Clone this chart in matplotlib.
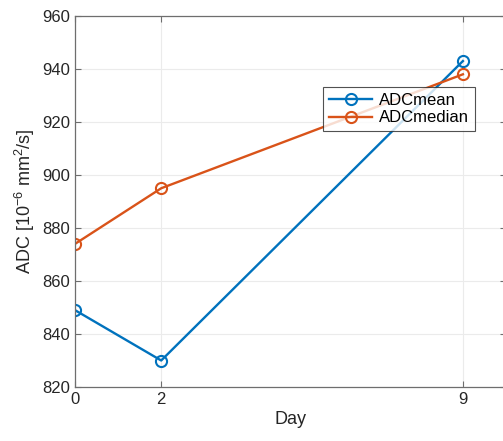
import matplotlib
matplotlib.use("Agg")
import matplotlib.pyplot as plt

plt.rcParams['font.family'] = ['Liberation Sans', 'DejaVu Sans']
plt.rcParams['mathtext.fontset'] = 'custom'
plt.rcParams['mathtext.rm'] = 'Liberation Sans'

days = [0, 2, 9]
adc_mean = [849, 830, 943]
adc_median = [874, 895, 938]
yticks = [820, 840, 860, 880, 900, 920, 940, 960]

blue = '#0072BD'
orange = '#D95319'
text_col = '#262626'

fig = plt.figure(figsize=(5.03, 4.41), dpi=100)
ax = fig.add_axes([75/503, 1 - 387/441, 431/503, 371/441])

ax.plot(days, adc_mean, '-o', color=blue, lw=1.7, ms=8, mfc='none', mew=1.5, label='ADCmean')
ax.plot(days, adc_median, '-o', color=orange, lw=1.7, ms=8, mfc='none', mew=1.5, label='ADCmedian')

ax.set_xlim(0, 10)
ax.set_ylim(820, 960)
ax.set_xticks(days)
ax.set_yticks(yticks)
ax.grid(True, color='#ebebeb', lw=0.8)
ax.set_axisbelow(True)
for s in ax.spines.values():
    s.set_color('#6e6e6e')
    s.set_linewidth(0.9)
ax.tick_params(direction='in', top=True, right=True, length=4, labelsize=12,
               colors='#6e6e6e', labelcolor=text_col, width=0.8)

ax.set_xlabel('Day', fontsize=13, color=text_col, labelpad=3)
ax.set_ylabel(r'ADC [10$^{\mathrm{-6}}$ mm$^{\mathrm{2}}$/s]', fontsize=13, color=text_col, labelpad=4)

leg = ax.legend(loc='upper left', bbox_to_anchor=(323/503, 1 - 87/441),
                bbox_transform=fig.transFigure, fontsize=12, frameon=True,
                fancybox=False, borderpad=0.35, labelspacing=0.15,
                handlelength=2.6, handletextpad=0.4, borderaxespad=0)
leg.get_frame().set_edgecolor('#262626')
leg.get_frame().set_linewidth(0.8)

fig.savefig('out.png', dpi=100)
